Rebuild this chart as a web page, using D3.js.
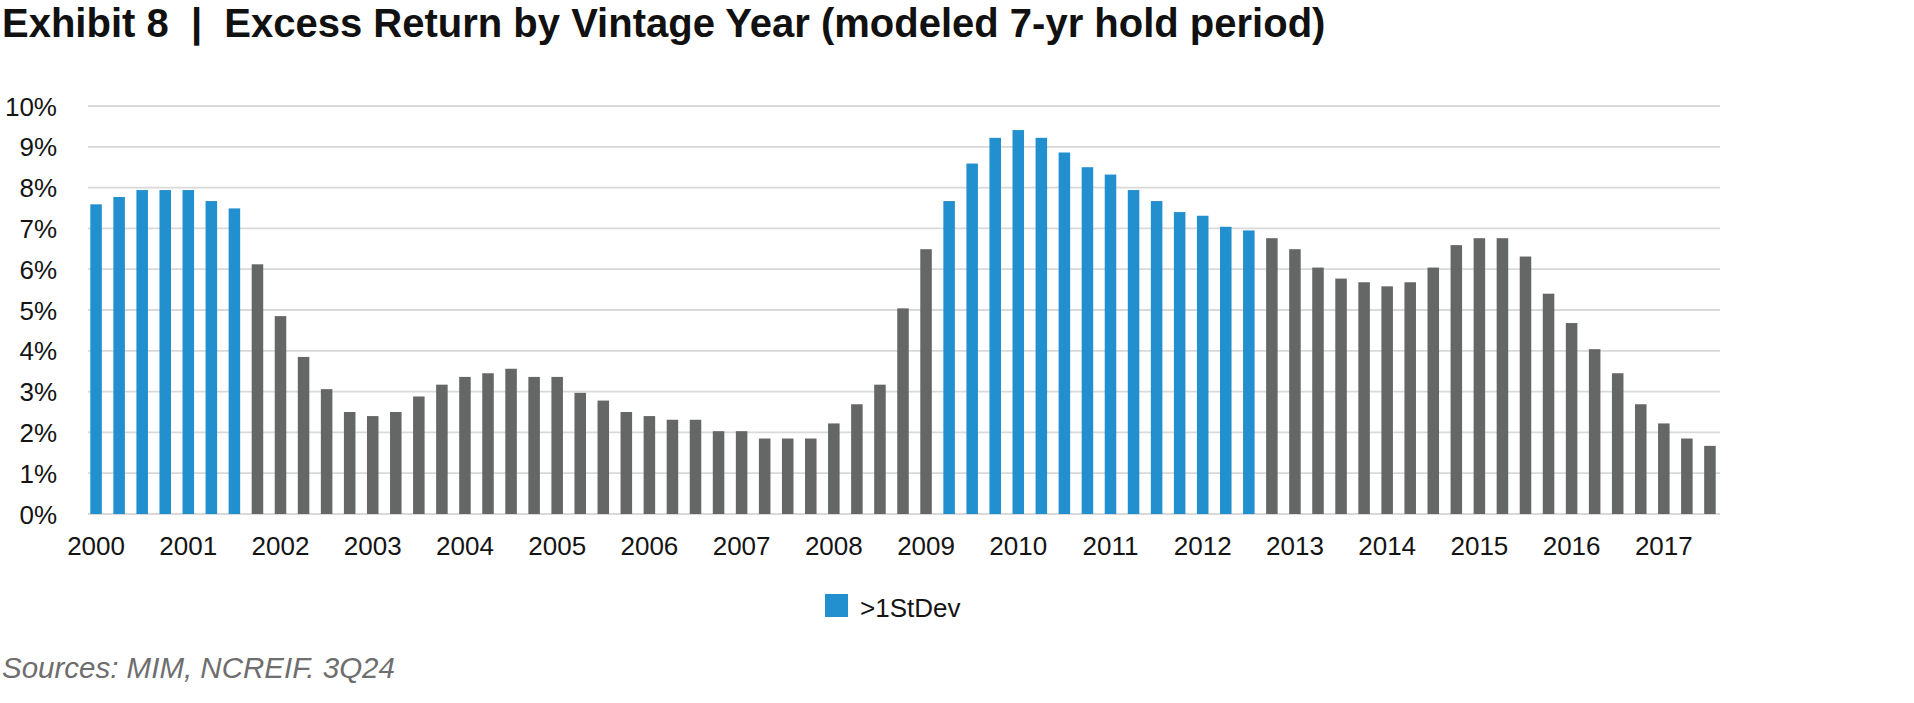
<!DOCTYPE html>
<html><head><meta charset="utf-8">
<script src="https://cdn.jsdelivr.net/npm/d3@7"></script>
<style>html,body{margin:0;padding:0;background:#fff;} svg{display:block;}</style>
</head><body>
<script>
// ---- data ----
const yearLabels = ["2000","2001","2002","2003","2004","2005","2006","2007","2008","2009","2010","2011","2012","2013","2014","2015","2016","2017"];
const quarterNames = ["Q1","Q2","Q3","Q4"];
// Excess return (%) by quarterly vintage, 2000 Q1 .. 2017 Q3
const excessReturn = [
  7.59, 7.77, 7.94, 7.94, 7.94, 7.67, 7.49,
  6.12, 4.85, 3.85, 3.06, 2.50, 2.40, 2.50, 2.88, 3.17, 3.36,
  3.45, 3.56, 3.36, 3.36, 2.97, 2.78, 2.50, 2.40, 2.31, 2.31,
  2.03, 2.03, 1.85, 1.85, 1.85, 2.22, 2.69, 3.17, 5.04, 6.49,
  7.67, 8.59, 9.22, 9.41, 9.22, 8.86, 8.50, 8.32, 7.94, 7.67,
  7.40, 7.31, 7.04, 6.95,
  6.76, 6.49, 6.04, 5.77, 5.68, 5.58, 5.68, 6.04, 6.59, 6.76,
  6.76, 6.31, 5.40, 4.68, 4.04, 3.45, 2.69, 2.22, 1.85, 1.67
];
// 1 = more than one standard deviation above (highlighted in blue)
const aboveStDev = [
  1,1,1,1,1,1,1,
  0,0,0,0,0,0,0,0,0,0,
  0,0,0,0,0,0,0,0,0,0,
  0,0,0,0,0,0,0,0,0,0,
  1,1,1,1,1,1,1,1,1,1,
  1,1,1,1,
  0,0,0,0,0,0,0,0,0,0,
  0,0,0,0,0,0,0,0,0,0
];
const yTicks = [0,1,2,3,4,5,6,7,8,9,10];
const legendLabel = ">1StDev";
const titleText = "Exhibit 8  |  Excess Return by Vintage Year (modeled 7-yr hold period)";
const sourceText = "Sources: MIM, NCREIF. 3Q24";

const categories = [];
yearLabels.forEach(y => quarterNames.forEach(q => categories.push(y + " " + q)));
const cats = categories.slice(0, excessReturn.length);
const data = cats.map((c, i) => ({cat: c, value: excessReturn[i], hi: aboveStDev[i] === 1}));

// ---- layout ----
const W = 1914, H = 703;
const BLUE = "#228fcf", GRAY = "#656666", GRID = "#d9d9d9", TXT = "#141414";
const gridX0 = 88, gridX1 = 1720;

const svg = d3.select("body").append("svg").attr("width", W).attr("height", H);

const x = d3.scaleBand().domain(cats).range([88, 1718]).paddingInner(0.5).paddingOuter(0.1);
const y = d3.scaleLinear().domain([0, 10]).range([514, 106]);

// gridlines + y labels
const yAxis = d3.axisLeft(y).tickValues(yTicks).tickSize(0).tickFormat(d => d + "%");
const yg = svg.append("g").attr("transform", `translate(57,0)`).call(yAxis);
yg.select(".domain").remove();
yg.selectAll("text").attr("x", 0).attr("dy", "0.35em")
  .style("font-family", "'Liberation Sans', Arial, sans-serif").style("font-size", "26px").attr("fill", TXT);

svg.append("g").selectAll("line").data(yTicks).join("line")
  .attr("x1", gridX0).attr("x2", gridX1)
  .attr("y1", d => y(d)).attr("y2", d => y(d))
  .attr("stroke", GRID).attr("stroke-width", 1.8);

// bars
svg.append("g").selectAll("rect").data(data).join("rect")
  .attr("x", d => x(d.cat)).attr("width", x.bandwidth())
  .attr("y", d => y(d.value)).attr("height", d => y(0) - y(d.value))
  .attr("fill", d => d.hi ? BLUE : GRAY);

// x labels (year at Q1)
const q1Cats = cats.filter(c => c.endsWith("Q1"));
const xAxis = d3.axisBottom(x).tickValues(q1Cats).tickSize(0).tickFormat(c => c.split(" ")[0]);
const xg = svg.append("g").attr("transform", `translate(0,${y(0)})`).call(xAxis);
xg.select(".domain").remove();
xg.selectAll("text").attr("y", 41).attr("dy", 0)
  .style("font-family", "'Liberation Sans', Arial, sans-serif").style("font-size", "26px").attr("fill", TXT);

// title
svg.append("text").attr("x", 2).attr("y", 37).text(titleText)
  .style("white-space", "pre")
  .style("font-family", "'Liberation Sans', Arial, sans-serif").style("font-weight", "bold")
  .style("font-size", "40px").attr("fill", "#111");

// legend
const lg = svg.append("g");
lg.append("rect").attr("x", 825).attr("y", 594).attr("width", 23).attr("height", 23).attr("fill", BLUE);
lg.append("text").attr("x", 860).attr("y", 617).text(legendLabel)
  .style("font-family", "'Liberation Sans', Arial, sans-serif").style("font-size", "26px").attr("fill", TXT);

// source
svg.append("text").attr("x", 2).attr("y", 678).text(sourceText)
  .style("font-family", "'Liberation Sans', Arial, sans-serif").style("font-style", "italic")
  .style("font-size", "29.5px").attr("fill", "#6e6e6e");
</script>
</body></html>
